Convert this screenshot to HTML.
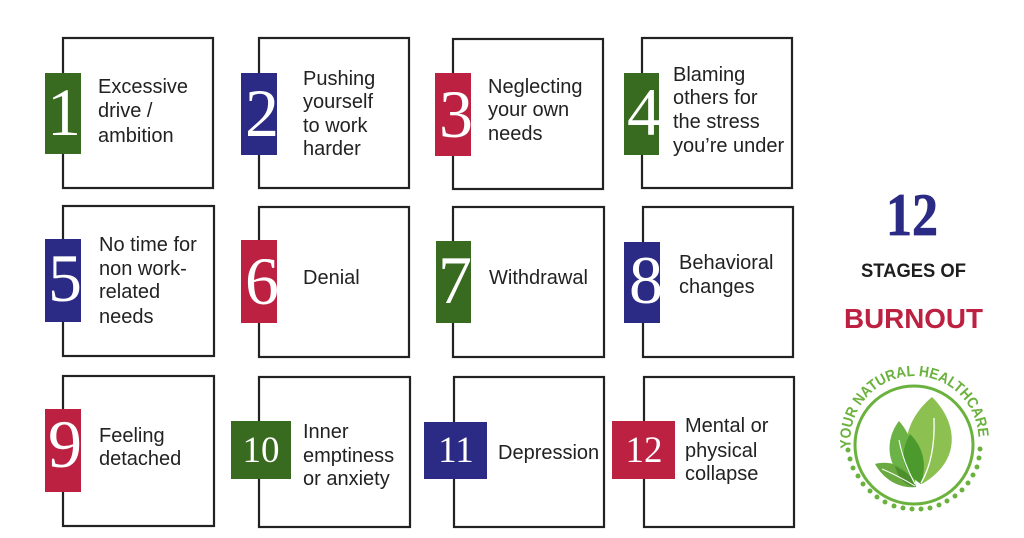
<!DOCTYPE html>
<html><head><meta charset="utf-8"><style>
html,body{margin:0;padding:0;background:#fff;width:1024px;height:538px;overflow:hidden}
svg{display:block}
.t{font-family:"Liberation Sans",sans-serif;font-size:20px;fill:#222}
.d{font-family:"Liberation Serif",serif;font-size:68px;fill:#fff;text-anchor:middle}
.d2{font-family:"Liberation Serif",serif;font-size:37px;fill:#fff;text-anchor:middle}
</style></head><body>
<svg width="1024" height="538" viewBox="0 0 1024 538" xmlns="http://www.w3.org/2000/svg">
<rect width="1024" height="538" fill="#fff"/>
<g fill="none" stroke="#222" stroke-width="2.2">
<rect x="63" y="38" width="150" height="150"/>
<rect x="259" y="38" width="150" height="150"/>
<rect x="453" y="39" width="150" height="150"/>
<rect x="642" y="38" width="150" height="150"/>
<rect x="63" y="206" width="151" height="150"/>
<rect x="259" y="207" width="150" height="150"/>
<rect x="453" y="207" width="151" height="150"/>
<rect x="643" y="207" width="150" height="150"/>
<rect x="63" y="376" width="151" height="150"/>
<rect x="259" y="377" width="151" height="150"/>
<rect x="454" y="377" width="150" height="150"/>
<rect x="644" y="377" width="150" height="150"/>
</g>
<!-- labels -->
<rect x="45" y="73" width="36" height="81" fill="#386a1f"/>
<rect x="241" y="73" width="36" height="82" fill="#2b2a85"/>
<rect x="435" y="73" width="36" height="83" fill="#bc2141"/>
<rect x="624" y="73" width="35" height="82" fill="#386a1f"/>
<rect x="45" y="239" width="36" height="83" fill="#2b2a85"/>
<rect x="241" y="240" width="36" height="83" fill="#bc2141"/>
<rect x="436" y="241" width="35" height="82" fill="#386a1f"/>
<rect x="624" y="242" width="36" height="81" fill="#2b2a85"/>
<rect x="45" y="409" width="36" height="83" fill="#bc2141"/>
<rect x="231" y="421" width="60" height="58" fill="#386a1f"/>
<rect x="424" y="422" width="63" height="57" fill="#2b2a85"/>
<rect x="612" y="421" width="63" height="58" fill="#bc2141"/>
<!-- digits -->
<text class="d" x="64" y="135">1</text>
<text class="d" x="262" y="136">2</text>
<text class="d" x="456" y="137">3</text>
<text class="d" x="644" y="135">4</text>
<text class="d" x="65" y="301">5</text>
<text class="d" x="262" y="304">6</text>
<text class="d" x="455" y="303">7</text>
<text class="d" x="646" y="303">8</text>
<text class="d" x="65" y="467">9</text>
<text class="d2" x="261" y="462">10</text>
<text class="d2" x="456" y="462">11</text>
<text class="d2" x="644" y="462">12</text>
<!-- texts -->
<text class="t" x="98" y="93">Excessive</text>
<text class="t" x="98" y="117">drive /</text>
<text class="t" x="98" y="142">ambition</text>
<text class="t" x="303" y="85">Pushing</text>
<text class="t" x="303" y="108">yourself</text>
<text class="t" x="303" y="132">to work</text>
<text class="t" x="303" y="155">harder</text>
<text class="t" x="488" y="93">Neglecting</text>
<text class="t" x="488" y="116">your own</text>
<text class="t" x="488" y="140">needs</text>
<text class="t" x="673" y="81">Blaming</text>
<text class="t" x="673" y="104">others for</text>
<text class="t" x="673" y="128">the stress</text>
<text class="t" x="673" y="152">you’re under</text>
<text class="t" x="99" y="251">No time for</text>
<text class="t" x="99" y="275">non work-</text>
<text class="t" x="99" y="298">related</text>
<text class="t" x="99" y="323">needs</text>
<text class="t" x="303" y="284">Denial</text>
<text class="t" x="489" y="284">Withdrawal</text>
<text class="t" x="679" y="269">Behavioral</text>
<text class="t" x="679" y="293">changes</text>
<text class="t" x="99" y="442">Feeling</text>
<text class="t" x="99" y="465">detached</text>
<text class="t" x="303" y="438">Inner</text>
<text class="t" x="303" y="462">emptiness</text>
<text class="t" x="303" y="485">or anxiety</text>
<text class="t" x="498" y="459">Depression</text>
<text class="t" x="685" y="432">Mental or</text>
<text class="t" x="685" y="457">physical</text>
<text class="t" x="685" y="480">collapse</text>
<!-- right title -->
<text x="886" y="235" font-family="Liberation Serif, serif" font-weight="bold" font-size="60" fill="#2b2a85" textLength="52" lengthAdjust="spacingAndGlyphs" stroke="#2b2a85" stroke-width="0.8">12</text>
<text x="861" y="277" font-family="Liberation Sans, sans-serif" font-weight="bold" font-size="19" fill="#1e1e1e" textLength="105" lengthAdjust="spacingAndGlyphs">STAGES OF</text>
<text x="844" y="328" font-family="Liberation Sans, sans-serif" font-weight="bold" font-size="28" fill="#bc2141" textLength="139" lengthAdjust="spacingAndGlyphs">BURNOUT</text>
<!-- logo -->
<defs>
<path id="arc" d="M 851 448 A 64 64 0 1 1 978 448"/>
</defs>
<circle cx="914" cy="445" r="59" fill="none" stroke="#6ab23d" stroke-width="3"/>
<text font-family="Liberation Sans, sans-serif" font-weight="bold" font-size="15" fill="#6ab23d"><textPath href="#arc" startOffset="0" textLength="206" lengthAdjust="spacingAndGlyphs">YOUR NATURAL HEALTHCARE</textPath></text>
<g fill="#6ab23d">
<circle cx="980" cy="449" r="2.5"/><circle cx="979" cy="458" r="2.5"/><circle cx="977" cy="467" r="2.5"/><circle cx="973" cy="475" r="2.5"/><circle cx="968" cy="483" r="2.5"/><circle cx="962" cy="490" r="2.5"/><circle cx="955" cy="496" r="2.5"/><circle cx="947" cy="501" r="2.5"/><circle cx="939" cy="505" r="2.5"/><circle cx="930" cy="508" r="2.5"/><circle cx="921" cy="509" r="2.5"/><circle cx="912" cy="509" r="2.5"/><circle cx="903" cy="508" r="2.5"/><circle cx="894" cy="506" r="2.5"/><circle cx="885" cy="502" r="2.5"/><circle cx="877" cy="497" r="2.5"/><circle cx="870" cy="491" r="2.5"/><circle cx="863" cy="484" r="2.5"/><circle cx="858" cy="476" r="2.5"/><circle cx="853" cy="468" r="2.5"/><circle cx="850" cy="459" r="2.5"/><circle cx="848" cy="450" r="2.5"/>
</g>
<path d="M932 397 C954 418 966 458 922 484 C900 466 898 425 932 397 Z" fill="#8cc152"/>
<path d="M899 421 C884 440 885 472 915 485 C917 460 914 438 899 421 Z" fill="#6cb347"/>
<path d="M910 434 C898 455 903 473 921 484 C927 465 924 448 910 434 Z" fill="#4c9a2e"/>
<path d="M875 464 C895 459 911 470 916 487 C900 489 884 480 875 464 Z" fill="#6aaa40"/>
<path d="M895 466 C906 471 914 478 916 487 C905 486 898 478 895 466 Z" fill="#4c8f2c"/>
<path d="M934 418 C935 445 931 466 921 483" fill="none" stroke="#fff" stroke-width="1.3"/>
<path d="M899 440 C902 456 908 471 915 484" fill="none" stroke="#fff" stroke-width="1"/>
<path d="M882 469 C894 474 905 480 915 486" fill="none" stroke="#fff" stroke-width="1"/>
</svg>
</body></html>
